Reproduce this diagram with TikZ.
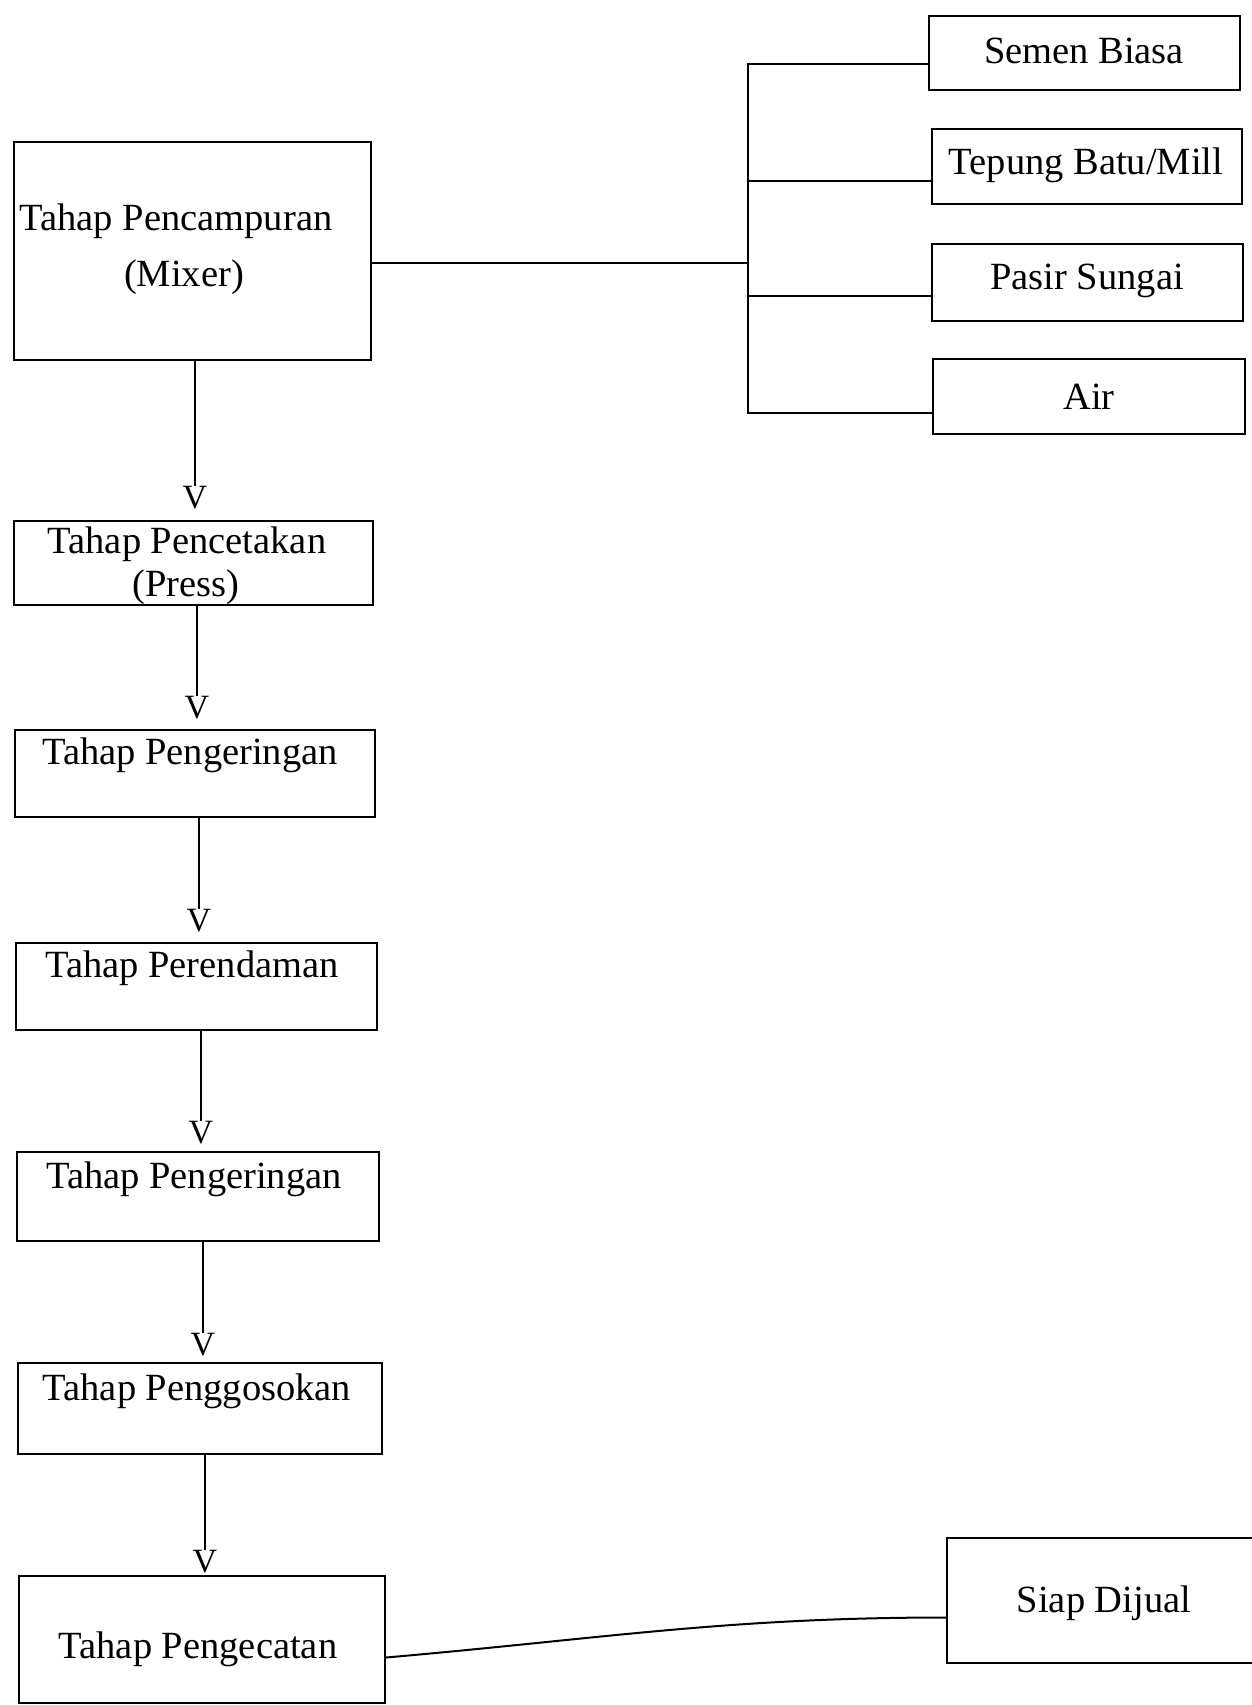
\documentclass[tikz,border=0pt]{standalone}
\usepackage{fontspec}
\setmainfont{Liberation Serif}
\begin{document}
\begin{tikzpicture}[x=1pt,y=-1pt,
  box/.style={draw,line width=2pt,inner sep=0pt,anchor=north west},
  lbl/.style={font=\fontsize{38.5}{42}\selectfont,inner sep=0pt},
  vtip/.style={font=\fontsize{34}{36}\selectfont,inner sep=0pt,anchor=south},
  ln/.style={line width=2pt}]
\useasboundingbox[fill=white] (0,0) rectangle (1252,1705);
% left column boxes
\node[box,minimum width=357pt,minimum height=218pt] (mix) at (13,141) {};
\node[box,minimum width=359pt,minimum height=84pt] (press) at (13,520) {};
\node[box,minimum width=360pt,minimum height=87pt] (dry1) at (14,729) {};
\node[box,minimum width=361pt,minimum height=87pt] (soak) at (15,942) {};
\node[box,minimum width=362pt,minimum height=89pt] (dry2) at (16,1151) {};
\node[box,minimum width=364pt,minimum height=91pt] (rub) at (17,1362) {};
\node[box,minimum width=366pt,minimum height=127pt] (paint) at (18,1575) {};
% right boxes
\node[box,minimum width=311pt,minimum height=74pt] (semen) at (928,15) {};
\node[box,minimum width=310pt,minimum height=75pt] (tepung) at (931,128) {};
\node[box,minimum width=311pt,minimum height=77pt] (pasir) at (931,243) {};
\node[box,minimum width=312pt,minimum height=75pt] (air) at (932,358) {};
\node[box,minimum width=320pt,minimum height=125pt] (sell) at (946,1537) {};
% texts
\node[lbl] (t1a) at (176,221.5) {Tahap Pencampuran};
\node[lbl] (t1b) at (184,277.5) {(Mixer)};
\node[lbl] (t2a) at (187,544.5) {Tahap Pencetakan};
\node[lbl] (t2b) at (186,587.5) {(Press)};
\node[lbl] (t3) at (190,755.5) {Tahap Pengeringan};
\node[lbl] (t4) at (192,968.5) {Tahap Perendaman};
\node[lbl] (t5) at (194,1179.5) {Tahap Pengeringan};
\node[lbl] (t6) at (197,1391.5) {Tahap Penggosokan};
\node[lbl] (t7) at (198,1649.5) {Tahap Pengecatan};
\node[lbl] (t8) at (1104,1603) {Siap Dijual};
\node[lbl] (ts) at (1084,51) {Semen Biasa};
\node[lbl] (tt) at (1086,165) {Tepung Batu/Mill};
\node[lbl] (tp) at (1087,281) {Pasir Sungai};
\node[lbl] (ta) at (1089,397) {Air};
% V tips
\node[vtip] (v1) at (195,509) {V};
\node[vtip] (v2) at (197,719) {V};
\node[vtip] (v3) at (199,932) {V};
\node[vtip] (v4) at (201,1144) {V};
\node[vtip] (v5) at (203,1356) {V};
\node[vtip] (v6) at (205,1573) {V};
% vertical connectors
\draw[ln] (v1.north |- mix.south) -- (v1.north);
\draw[ln] (v2.north |- press.south) -- (v2.north);
\draw[ln] (v3.north |- dry1.south) -- (v3.north);
\draw[ln] (v4.north |- soak.south) -- (v4.north);
\draw[ln] (v5.north |- dry2.south) -- (v5.north);
\draw[ln] (v6.north |- rub.south) -- (v6.north);
% bracket
\coordinate (br) at (748,263);
\coordinate (sw) at ([yshift=-11pt]semen.west);
\coordinate (tw) at ([yshift=-14.5pt]tepung.west);
\coordinate (pw) at ([yshift=-13.5pt]pasir.west);
\coordinate (aw) at ([yshift=-16.5pt]air.west);
\draw[ln] ([yshift=-12pt]mix.east) -- (br);
\draw[ln] (sw) -| (br |- aw) -- (aw);
\draw[ln] (tw) -- (tw -| br);
\draw[ln] (pw) -- (pw -| br);
% final connector
\draw[ln] ([yshift=-18pt]paint.east) to[out=5,in=180] ([yshift=-17pt]sell.west);
\end{tikzpicture}
\end{document}
